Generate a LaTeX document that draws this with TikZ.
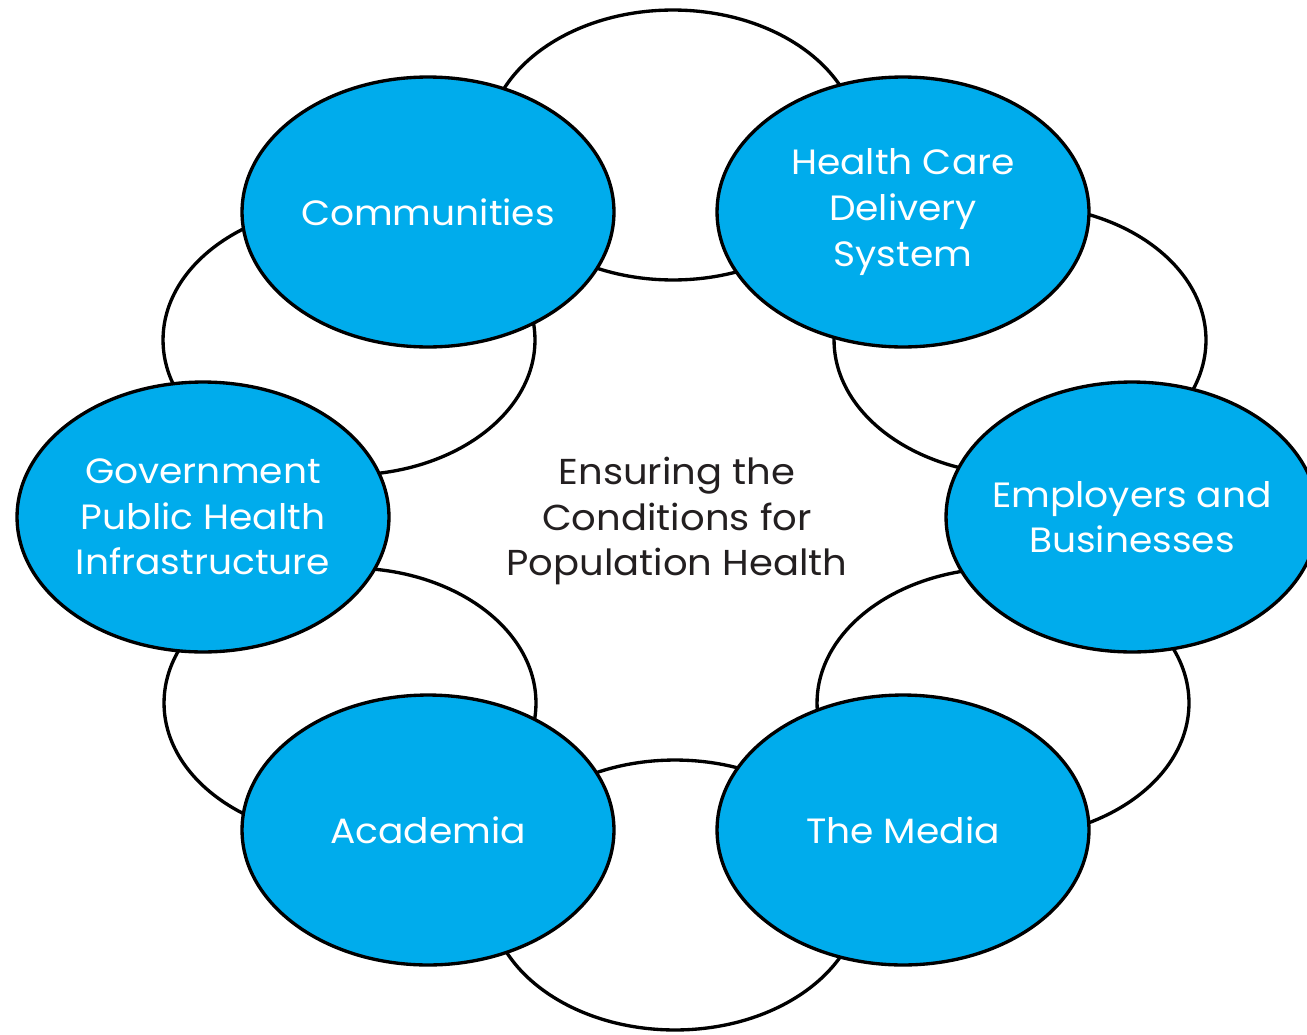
\documentclass[tikz,border=0pt]{standalone}
\usepackage{fontspec}
\setmainfont[FakeStretch=1.07]{Poppins}
\usetikzlibrary{shapes.geometric}
\definecolor{hpblue}{RGB}{0,172,236}
\definecolor{hpdark}{RGB}{35,31,32}

\begin{document}
\begin{tikzpicture}[x=0.02cm, y=-0.02cm,
  ring/.style={ellipse, draw=black, line width=1.9pt, inner sep=0pt,
    minimum width=7.44cm, minimum height=5.4cm},
  spacer/.style={ring, fill=white},
  sector/.style={ring, fill=hpblue, text=white, align=center,
    inner xsep=-0.6cm, font=\fontsize{20}{26}\selectfont}]
\clip (0,0) rectangle (1307,1034);
% Linking ellipses behind the ring
\node[spacer] (sTop) at (673,145) {};
\node[spacer] (sUL) at (349,340) {};
\node[spacer] (sUR) at (1020,340) {};
\node[spacer] (sLL) at (350,703) {};
\node[spacer] (sLR) at (1003,703) {};
\node[spacer] (sBot) at (675,895) {};
% Partner ellipses
\node[sector] (comm) at (428,212) {Communities};
\node[sector] (care) at (903,212) {Health Care\\Delivery\\System};
\node[sector] (gov) at (203,517) {Government\\Public Health\\Infrastructure};
\node[sector] (emp) at (1132,517) {Employers and\\Businesses};
\node[sector] (acad) at (428,830) {Academia};
\node[sector] (media) at (903,830) {The Media};
% Centre label
\node[text=hpdark, align=center, font=\fontsize{20.5}{26}\selectfont] (goal) at (677,521)
  {Ensuring the\\Conditions for\\Population Health};
\end{tikzpicture}
\end{document}
